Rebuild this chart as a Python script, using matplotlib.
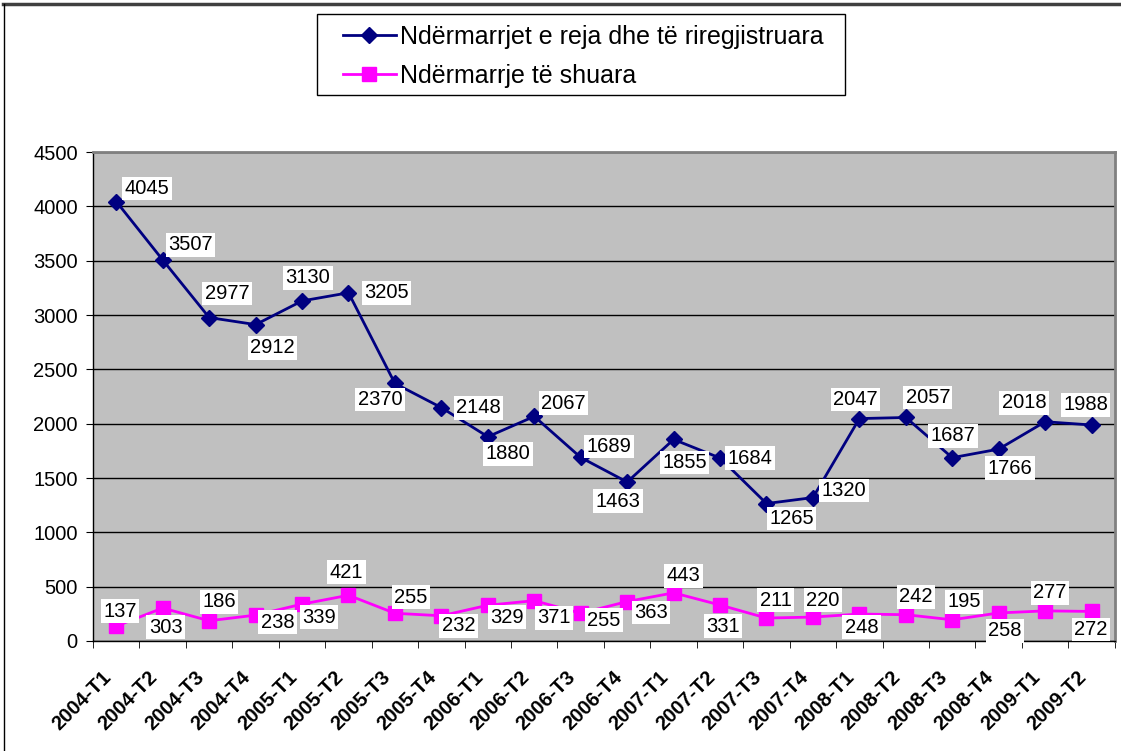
import matplotlib
matplotlib.use('Agg')
import matplotlib.pyplot as plt
from matplotlib.lines import Line2D
from matplotlib.patches import Rectangle
from matplotlib.transforms import ScaledTranslation
import numpy as np

plt.rcParams['font.family'] = ['Liberation Sans', 'DejaVu Sans']

periods = ['2004-T1', '2004-T2', '2004-T3', '2004-T4',
           '2005-T1', '2005-T2', '2005-T3', '2005-T4',
           '2006-T1', '2006-T2', '2006-T3', '2006-T4',
           '2007-T1', '2007-T2', '2007-T3', '2007-T4',
           '2008-T1', '2008-T2', '2008-T3', '2008-T4',
           '2009-T1', '2009-T2']
te_reja = [4045, 3507, 2977, 2912, 3130, 3205, 2370, 2148, 1880, 2067, 1689,
           1463, 1855, 1684, 1265, 1320, 2047, 2057, 1687, 1766, 2018, 1988]
te_shuara = [137, 303, 186, 238, 339, 421, 255, 232, 329, 371, 255,
             363, 443, 331, 211, 220, 248, 242, 195, 258, 277, 272]

# where each value label sits relative to its point (pixels, +y = down)
off_reja = [(31, -13), (28, -15), (18, -24), (17, 23), (6, -23), (38, 0),
            (-15, 16), (37, 0), (20, 17), (29, -13), (28, -11), (-9, 19),
            (11, 23), (30, 0), (25, 15), (31, -7), (-4, -19), (22, -20),
            (1, -22), (11, 19), (-21, -19), (-6, -20)]
off_shuara = [(4, -15), (3, 19), (10, -19), (22, 7), (17, 13), (-2, -23),
              (16, -16), (17, 10), (19, 12), (20, 17), (23, 7), (24, 11),
              (10, -17), (3, 21), (9, -18), (10, -17), (2, 13), (10, -18),
              (12, -18), (6, 18), (5, -18), (-1, 18)]

W, H = 1121, 751
fig = plt.figure(figsize=(W / 100, H / 100), dpi=100)
ax = fig.add_axes([0.083, 0.1465, 0.9115, 0.651])
ax.set_facecolor('#C0C0C0')

x = np.arange(len(periods))
l1, = ax.plot(x, te_reja, color='#000080', lw=2, marker='D', ms=8,
              label='Ndërmarrjet e reja dhe të riregjistruara', zorder=3)
l2, = ax.plot(x, te_shuara, color='#FF00FF', lw=2, marker='s', ms=10,
              label='Ndërmarrje të shuara', zorder=3)

box = dict(boxstyle='square,pad=0.12', fc='white', ec='none')
for xi, v, (dx, dy) in zip(x, te_reja, off_reja):
    ax.annotate(str(v), (xi, v), xytext=(dx, -dy), textcoords='offset pixels',
                ha='center', va='center', fontsize=14.5, bbox=box, zorder=5)
for xi, v, (dx, dy) in zip(x, te_shuara, off_shuara):
    ax.annotate(str(v), (xi, v), xytext=(dx, -dy), textcoords='offset pixels',
                ha='center', va='center', fontsize=14.5, bbox=box, zorder=5)

ax.set_xlim(-0.5, len(periods) - 0.5)
ax.set_ylim(0, 4500)
ax.set_yticks(range(0, 4501, 500))
ax.yaxis.grid(True, color='black', lw=1)
ax.set_axisbelow(True)
ax.tick_params(axis='y', labelsize=14.5, length=5, pad=6, direction='out')

ax.set_xticks(x)
ax.set_xticklabels(periods, rotation=45, ha='right', va='center',
                   rotation_mode='anchor', fontsize=14.5, fontweight='bold')
ax.set_xticks(np.arange(-0.5, len(periods), 1), minor=True)
ax.tick_params(axis='x', which='major', length=0, pad=24)
ax.tick_params(axis='x', which='minor', length=5, direction='out')
shift = ScaledTranslation(-0.08, 0, fig.dpi_scale_trans)
for lab in ax.get_xticklabels():
    lab.set_transform(lab.get_transform() + shift)

for s in ['top', 'right']:
    ax.spines[s].set_color('#808080')
    ax.spines[s].set_linewidth(2)
for s in ['left', 'bottom']:
    ax.spines[s].set_color('black')
    ax.spines[s].set_linewidth(1)

# legend entries, with the box drawn separately
fig.legend(handles=[l1, l2], loc='upper left',
           bbox_to_anchor=(343 / W, 1 - 25 / H), borderaxespad=0,
           borderpad=0, fontsize=18, frameon=False, handlelength=2.1,
           handletextpad=0.2, labelspacing=0.6)
fig.add_artist(Rectangle((317 / W, 1 - 95 / H), 528 / W, 81 / H,
                         transform=fig.transFigure, fill=False,
                         edgecolor='black', lw=1))

# chart outer border
fig.add_artist(Line2D([0.003, 1], [0.995, 0.995], color='#404040', lw=2.5))
fig.add_artist(Line2D([0.004, 0.004], [0, 0.995], color='black', lw=1))

fig.savefig('out.png', dpi=100)
